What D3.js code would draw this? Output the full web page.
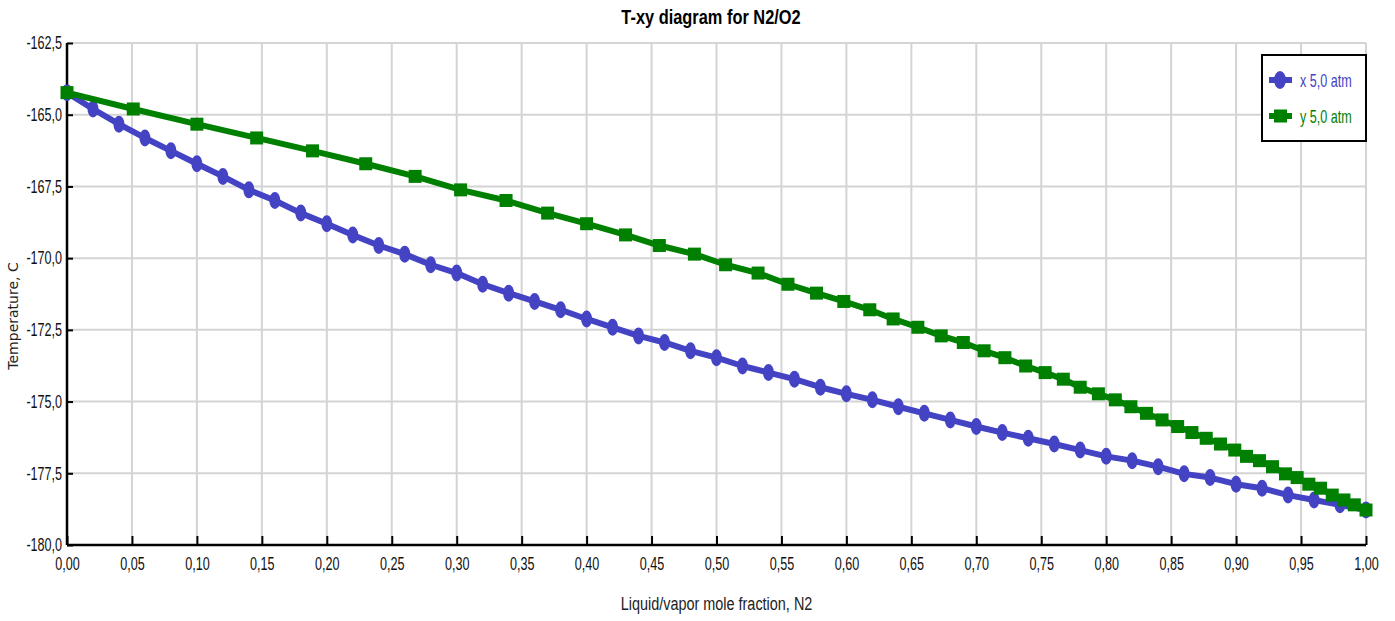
<!DOCTYPE html>
<html>
<head>
<meta charset="utf-8">
<script src="https://cdn.jsdelivr.net/npm/d3@7"></script>
<style>
  html, body { margin: 0; padding: 0; background: #fff; }
  svg { display: block; }
  .tick text { font-family: "Liberation Sans", Arial, sans-serif; font-size: 18px; fill: #111; }
</style>
</head>
<body>
<svg id="chart" width="1395" height="621"></svg>
<script>
// liquid mole fraction N2 (x points)
const xLiquid = [0.00, 0.02, 0.04, 0.06, 0.08, 0.10, 0.12, 0.14, 0.16, 0.18,
  0.20, 0.22, 0.24, 0.26, 0.28, 0.30, 0.32, 0.34, 0.36, 0.38,
  0.40, 0.42, 0.44, 0.46, 0.48, 0.50, 0.52, 0.54, 0.56, 0.58,
  0.60, 0.62, 0.64, 0.66, 0.68, 0.70, 0.72, 0.74, 0.76, 0.78,
  0.80, 0.82, 0.84, 0.86, 0.88, 0.90, 0.92, 0.94, 0.96, 0.98, 1.00];

// vapor mole fraction N2 in equilibrium with each liquid point
const yVapor = [0.000, 0.051, 0.100, 0.146, 0.189, 0.230, 0.268, 0.303, 0.338, 0.370,
  0.400, 0.430, 0.456, 0.483, 0.507, 0.532, 0.555, 0.577, 0.598, 0.618,
  0.636, 0.655, 0.673, 0.690, 0.706, 0.722, 0.738, 0.753, 0.767, 0.780,
  0.794, 0.807, 0.819, 0.831, 0.843, 0.855, 0.866, 0.877, 0.888, 0.899,
  0.908, 0.918, 0.928, 0.938, 0.947, 0.956, 0.965, 0.974, 0.983, 0.991, 1.000];

// bubble/dew temperature, C (same for both series at each point)
const temperature = [-164.23, -164.80, -165.33, -165.81, -166.26, -166.71, -167.15, -167.62, -167.99, -168.43,
  -168.80, -169.19, -169.56, -169.86, -170.23, -170.52, -170.91, -171.22, -171.51, -171.80,
  -172.12, -172.41, -172.71, -172.94, -173.23, -173.47, -173.76, -173.99, -174.22, -174.50,
  -174.73, -174.94, -175.18, -175.41, -175.64, -175.87, -176.08, -176.28, -176.48, -176.69,
  -176.91, -177.06, -177.27, -177.52, -177.65, -177.88, -178.02, -178.26, -178.43, -178.60, -178.78];

const xTicks = [0, 0.05, 0.10, 0.15, 0.20, 0.25, 0.30, 0.35, 0.40, 0.45, 0.50,
  0.55, 0.60, 0.65, 0.70, 0.75, 0.80, 0.85, 0.90, 0.95, 1.00];
const yTicks = [-162.5, -165, -167.5, -170, -172.5, -175, -177.5, -180];

const seriesNames = ['x  5,0 atm', 'y  5,0 atm'];

const BLUE = '#4343c4';
const GREEN = '#008000';
const GRID = '#d4d4d4';
// no narrow font installed, squeeze glyphs horizontally instead
const NARROW = 0.7;
const NARROW_FONT = '"Liberation Sans", Arial, sans-serif';

const margin = { left: 67, right: 29, top: 43, bottom: 76 };
const W = 1395, H = 621;

const locale = d3.formatLocale({
  decimal: ',', thousands: '.', grouping: [3], currency: ['', ''], minus: '-'
});
const fmtX = locale.format('.2f');
const fmtY = locale.format('.1f');

const svg = d3.select('#chart');

const x = d3.scaleLinear().domain([0, 1]).range([margin.left, W - margin.right]);
const y = d3.scaleLinear().domain([-180, -162.5]).range([H - margin.bottom, margin.top]);

// grid
const grid = svg.append('g');
grid.selectAll('.vg').data(xTicks.slice(1)).enter().append('line')
  .attr('x1', (d) => x(d)).attr('x2', (d) => x(d))
  .attr('y1', y(-180)).attr('y2', y(-162.5))
  .attr('stroke', GRID).attr('stroke-width', 2);
grid.selectAll('.hg').data(yTicks.slice(0, -1)).enter().append('line')
  .attr('x1', x(0)).attr('x2', x(1))
  .attr('y1', (d) => y(d)).attr('y2', (d) => y(d))
  .attr('stroke', GRID).attr('stroke-width', 2);

// axes, ticks pointing into the plot
const xAxis = svg.append('g')
  .attr('transform', `translate(0,${y(-180)})`)
  .call(d3.axisBottom(x).tickValues(xTicks).tickFormat(fmtX).tickSize(-9).tickPadding(12));
const yAxis = svg.append('g')
  .attr('transform', `translate(${x(0)},0)`)
  .call(d3.axisLeft(y).tickValues(yTicks).tickFormat(fmtY).tickSize(-6).tickPadding(7));

[xAxis, yAxis].forEach((g) => {
  g.select('.domain').attr('stroke', '#000').attr('stroke-width', 2.5);
  g.selectAll('.tick line').attr('stroke', '#000').attr('stroke-width', 2);
  g.selectAll('.tick text').attr('transform', `scale(${NARROW},1)`);
});
xAxis.select('.domain').attr('d', `M${x(0)},0H${x(1)}`);
yAxis.select('.domain').attr('d', `M0,${y(-180)}V${y(-162.5)}`);

// series
const liquid = xLiquid.map((d, i) => ({ x: d, t: temperature[i] }));
const vapor = yVapor.map((d, i) => ({ x: d, t: temperature[i] }));

const line = d3.line().x((d) => x(d.x)).y((d) => y(d.t));

svg.append('path').datum(liquid)
  .attr('d', line).attr('fill', 'none')
  .attr('stroke', BLUE).attr('stroke-width', 6).attr('stroke-linejoin', 'round');
svg.append('g').selectAll('ellipse').data(liquid).enter().append('ellipse')
  .attr('cx', (d) => x(d.x)).attr('cy', (d) => y(d.t))
  .attr('rx', 5.5).attr('ry', 8.5).attr('fill', BLUE);

svg.append('path').datum(vapor)
  .attr('d', line).attr('fill', 'none')
  .attr('stroke', GREEN).attr('stroke-width', 6).attr('stroke-linejoin', 'round');
svg.append('g').selectAll('rect').data(vapor).enter().append('rect')
  .attr('x', (d) => x(d.x) - 6.5).attr('y', (d) => y(d.t) - 6.5)
  .attr('width', 13).attr('height', 13).attr('fill', GREEN);

// title and axis labels
svg.append('text')
  .attr('transform', `translate(711,24) scale(0.78,1)`)
  .attr('text-anchor', 'middle')
  .style('font-family', NARROW_FONT)
  .style('font-weight', 'bold').style('font-size', '21px')
  .text('T-xy diagram for N2/O2');

svg.append('text')
  .attr('transform', `translate(${x(0.5)},610) scale(0.76,1)`)
  .attr('text-anchor', 'middle')
  .style('font-family', NARROW_FONT)
  .style('font-size', '19px').style('fill', '#222')
  .text('Liquid/vapor mole fraction, N2');

svg.append('text')
  .attr('transform', 'translate(18,316) rotate(-90)')
  .attr('text-anchor', 'middle')
  .style('font-family', '"DejaVu Sans", sans-serif')
  .style('font-size', '14px').style('fill', '#222')
  .text('Temperature, C');

// legend
const legend = svg.append('g').attr('transform', 'translate(1262,55)');
legend.append('rect')
  .attr('width', 104).attr('height', 86)
  .attr('fill', '#fff').attr('stroke', '#000').attr('stroke-width', 2);
const items = legend.selectAll('.item').data(seriesNames).enter().append('g')
  .attr('transform', (d, i) => `translate(0,${25 + i * 36})`);
items.append('line')
  .attr('x1', 7).attr('x2', 30).attr('y1', 0).attr('y2', 0)
  .attr('stroke', (d, i) => (i ? GREEN : BLUE)).attr('stroke-width', 6);
items.filter((d, i) => i === 0).append('ellipse')
  .attr('cx', 18).attr('cy', 0).attr('rx', 6).attr('ry', 9).attr('fill', BLUE);
items.filter((d, i) => i === 1).append('rect')
  .attr('x', 12).attr('y', -6.5).attr('width', 13).attr('height', 13).attr('fill', GREEN);
items.append('text')
  .attr('transform', `translate(38,7) scale(${NARROW},1)`)
  .style('font-family', NARROW_FONT)
  .style('font-size', '18px')
  .attr('fill', (d, i) => (i ? GREEN : BLUE))
  .text((d) => d);
</script>
</body>
</html>
